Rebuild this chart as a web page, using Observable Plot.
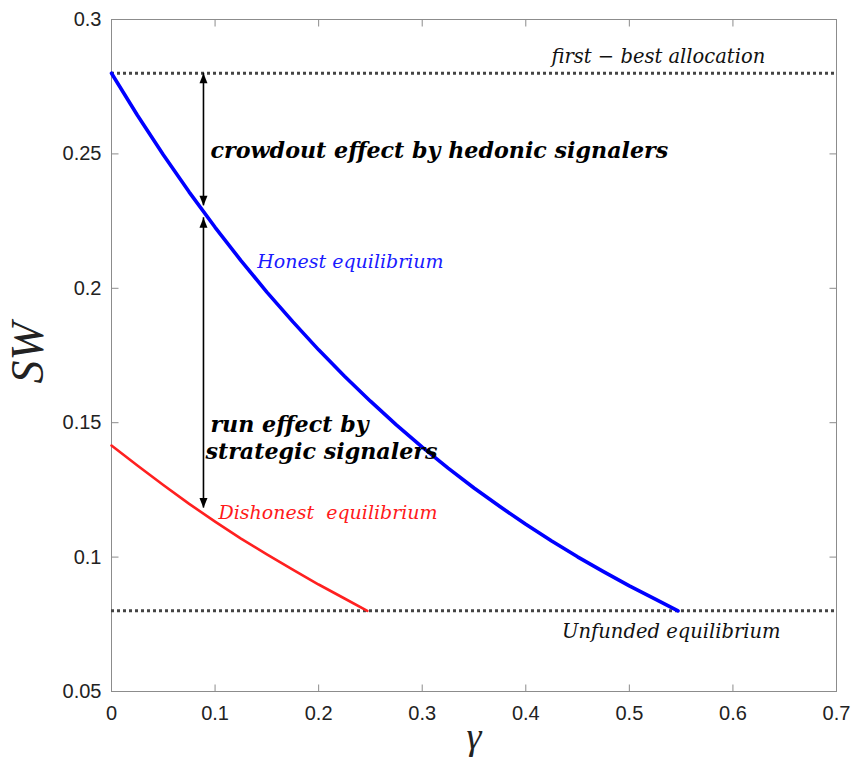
<!DOCTYPE html>
<html>
<head>
<meta charset="utf-8">
<script src="https://cdn.jsdelivr.net/npm/d3@7"></script>
<script src="https://cdn.jsdelivr.net/npm/@observablehq/plot@0.6"></script>
<style>
  body { margin: 0; background: #fff; }
</style>
</head>
<body>
<div id="chart"></div>
<script>
// Social welfare SW as a function of gamma, honest vs dishonest equilibrium
const honestGamma = [0, 0.025, 0.05, 0.075, 0.1, 0.125, 0.15, 0.175, 0.2, 0.225, 0.25, 0.275,
  0.3, 0.325, 0.35, 0.375, 0.4, 0.425, 0.45, 0.475, 0.5, 0.525, 0.547];
const honestSW = [0.280, 0.2644, 0.2497, 0.2358, 0.2227, 0.2103, 0.1986, 0.1876, 0.1771, 0.1673,
  0.1580, 0.1492, 0.1409, 0.1331, 0.1257, 0.1188, 0.1122, 0.1060, 0.1001, 0.0946, 0.0893, 0.0844, 0.080];

const dishonestGamma = [0, 0.025, 0.05, 0.075, 0.1, 0.125, 0.15, 0.175, 0.2, 0.225, 0.247];
const dishonestSW = [0.1415, 0.1341, 0.1268, 0.1198, 0.1132, 0.1069, 0.1010, 0.0953, 0.0898, 0.0846, 0.080];

// Reference levels
const firstBestSW = 0.28;
const unfundedSW = 0.08;

// Effect arrows at gamma = 0.0888
const arrowGamma = [0.0888, 0.0888];
const arrowTop = [0.28, 0.2262];
const arrowBottom = [0.2307, 0.1183];

const xTicks = [0, 0.1, 0.2, 0.3, 0.4, 0.5, 0.6, 0.7];
const yTicks = [0.05, 0.1, 0.15, 0.2, 0.25, 0.3];
const xDomain = [0, 0.7];
const yDomain = [0.05, 0.3];

const honest = honestGamma.map((g, i) => ({gamma: g, sw: honestSW[i]}));
const dishonest = dishonestGamma.map((g, i) => ({gamma: g, sw: dishonestSW[i]}));
const arrows = arrowGamma.map((g, i) => ({gamma: g, top: arrowTop[i], bottom: arrowBottom[i]}));

// Small custom symbols: inward tick marks and filled arrow heads
const tickUp = {draw(c) { c.moveTo(0, 0); c.lineTo(0, -7); }};
const tickDown = {draw(c) { c.moveTo(0, 0); c.lineTo(0, 7); }};
const tickRight = {draw(c) { c.moveTo(0, 0); c.lineTo(7, 0); }};
const tickLeft = {draw(c) { c.moveTo(0, 0); c.lineTo(-7, 0); }};
const headUp = {draw(c) { c.moveTo(0, 0); c.lineTo(-4, 10); c.lineTo(4, 10); c.closePath(); }};
const headDown = {draw(c) { c.moveTo(0, 0); c.lineTo(-4, -10); c.lineTo(4, -10); c.closePath(); }};

const frameGray = "#8c8c8c";
const annFont = "DejaVu Serif";
const titleFont = "Liberation Serif, Times New Roman, serif";

const chart = Plot.plot({
  width: 851,
  height: 767,
  marginLeft: 111,
  marginRight: 15,
  marginTop: 19,
  marginBottom: 76,
  style: {fontFamily: "Liberation Sans, Arial, sans-serif", fontSize: "20px", color: "#222", background: "#fff"},
  x: {domain: xDomain, ticks: xTicks, label: null},
  y: {domain: yDomain, ticks: yTicks, label: null},
  marks: [
    Plot.axisX(xTicks, {tickSize: 0, tickPadding: 14, tickFormat: d => String(d), fontSize: 20}),
    Plot.axisY(yTicks, {tickSize: 0, tickPadding: 10, tickFormat: d => String(d), fontSize: 20}),
    // inward ticks on all four sides
    Plot.dot(xTicks.slice(1, -1), {x: d => d, y: yDomain[0], symbol: tickUp, stroke: frameGray, fill: "none", strokeWidth: 1}),
    Plot.dot(xTicks.slice(1, -1), {x: d => d, y: yDomain[1], symbol: tickDown, stroke: frameGray, fill: "none", strokeWidth: 1}),
    Plot.dot(yTicks.slice(1, -1), {x: xDomain[0], y: d => d, symbol: tickRight, stroke: frameGray, fill: "none", strokeWidth: 1}),
    Plot.dot(yTicks.slice(1, -1), {x: xDomain[1], y: d => d, symbol: tickLeft, stroke: frameGray, fill: "none", strokeWidth: 1}),
    Plot.frame({stroke: frameGray, strokeWidth: 1}),

    // first-best and unfunded levels
    Plot.ruleY([firstBestSW, unfundedSW], {stroke: "#444", strokeWidth: 3, strokeDasharray: "3,3"}),

    // equilibrium curves
    Plot.line(dishonest, {x: "gamma", y: "sw", stroke: "#ff2020", strokeWidth: 2.6}),
    Plot.line(honest, {x: "gamma", y: "sw", stroke: "#0000ff", strokeWidth: 3.6}),

    // double-headed effect arrows
    Plot.ruleX(arrows, {x: "gamma", y1: "top", y2: "bottom", stroke: "#000", strokeWidth: 1.6}),
    Plot.dot(arrows, {x: "gamma", y: "top", symbol: headUp, fill: "#000", stroke: "none"}),
    Plot.dot(arrows, {x: "gamma", y: "bottom", symbol: headDown, fill: "#000", stroke: "none"}),

    // annotations
    Plot.text(["first \u2212 best allocation"], {x: 0.528, y: 0.2862, text: d => d, fontFamily: annFont, fontStyle: "italic", fontSize: 19.5, fill: "#111"}),
    Plot.text(["Unfunded equilibrium"], {x: 0.5405, y: 0.0722, text: d => d, fontFamily: annFont, fontStyle: "italic", fontSize: 19.5, fill: "#111"}),
    Plot.text(["Honest equilibrium"], {x: 0.2307, y: 0.2098, text: d => d, fontFamily: annFont, fontStyle: "italic", fontSize: 19, fill: "#1a1aff"}),
    Plot.text(["Dishonest  equilibrium"], {x: 0.1033, y: 0.1164, text: d => d, textAnchor: "start", fontFamily: annFont, fontStyle: "italic", fontSize: 19, fill: "#ff1a1a"}),
    Plot.text(["crowdout effect by hedonic signalers"], {x: 0.0956, y: 0.2513, text: d => d, textAnchor: "start", fontFamily: annFont, fontStyle: "italic", fontWeight: "bold", fontSize: 22.2, fill: "#000"}),
    Plot.text(["run effect by"], {x: 0.0955, y: 0.1492, text: d => d, textAnchor: "start", fontFamily: annFont, fontStyle: "italic", fontWeight: "bold", fontSize: 22.2, fill: "#000"}),
    Plot.text(["strategic signalers"], {x: 0.0907, y: 0.1390, text: d => d, textAnchor: "start", fontFamily: annFont, fontStyle: "italic", fontWeight: "bold", fontSize: 22.2, fill: "#000"}),

    // axis titles
    Plot.text(["SW"], {frameAnchor: "left", dx: -83, dy: 28, rotate: -90, text: d => d, fontFamily: titleFont, fontStyle: "italic", fontSize: 46, fill: "#222"}),
    Plot.text(["\u03b3"], {frameAnchor: "bottom", dy: 57, text: d => d, fontFamily: titleFont, fontStyle: "italic", fontSize: 38, fill: "#222"})
  ]
});

// tick labels at the frame's label size
d3.select(chart).selectAll('[aria-label="x-axis tick label"], [aria-label="y-axis tick label"]')
  .attr("font-size", 20).style("font-size", "20px");

document.getElementById("chart").appendChild(chart);
</script>
</body>
</html>
